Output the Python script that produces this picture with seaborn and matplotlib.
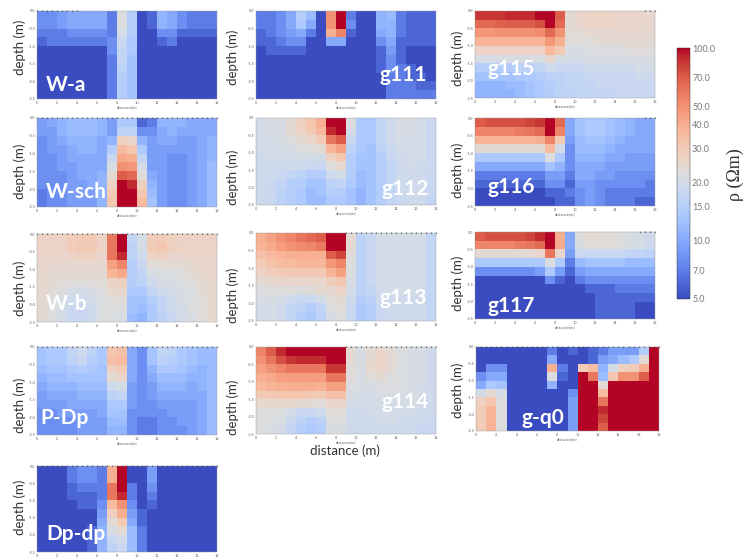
import numpy as np
import matplotlib
matplotlib.use("Agg")
import matplotlib.pyplot as plt
from matplotlib.colors import LogNorm
import seaborn as sns

sns.set_style("white")
plt.rcParams['font.family'] = ['Lato', 'DejaVu Sans']

W = 743
H = 557

W_a = [
 [8,8,9,10,10,10,10,7,22,15,5,6,11,10,8,7,7,7],
 [8,8,9,10,10,10,10,7,22,15,5,6,11,10,8,7,7,7],
 [7,7,7,8,8,8,8,7,20,15,5,5,8,8,6,6,6,6],
 [6,7,7,7,7,7,7,8,18,14,5,5,6,7,5,5,5,5],
 [5,5,5,5,5,5,5,8,17,14,5,5,5,5,5,5,5,5],
 [5,5,5,5,5,5,5,7,17,13,5,5,5,5,5,5,5,5],
 [5,5,5,5,5,5,5,7,16,13,5,5,5,5,5,5,5,5],
 [5,5,5,5,5,5,5,7,15,13,5,5,5,5,5,5,5,5],
 [5,5,5,5,5,5,5,7,15,13,5,5,5,5,5,5,5,5],
 [5,5,5,5,5,5,5,7,15,13,5,5,5,5,5,5,5,5],
]
W_sch = [
 [9,10,11,12,12,12,11,9,14,14,6,7,11,11,11,10,10,10],
 [9,9,11,12,12,12,11,9,16,16,8,8,10,11,10,10,10,10],
 [8,9,10,11,11,11,10,11,28,26,11,9,10,10,9,9,10,11],
 [8,9,9,10,11,11,10,15,36,32,14,9,9,9,9,9,10,11],
 [8,8,9,10,10,10,10,18,42,40,17,9,9,8,8,9,10,11],
 [8,8,9,9,10,10,10,21,50,48,20,9,9,8,8,9,10,12],
 [8,8,8,9,10,10,11,24,70,65,23,10,9,8,8,9,10,12],
 [8,8,8,9,9,10,11,27,100,90,28,11,9,8,8,9,10,12],
 [7,8,8,9,9,9,11,30,100,100,32,12,9,8,8,9,10,12],
 [7,8,8,9,9,9,11,32,100,100,36,13,9,8,8,9,10,12],
]
W_b = [
 [27,27,27,29,31,31,27,60,100,17,20,29,30,28,27,27,27,27],
 [27,27,27,29,31,31,27,60,100,16,20,30,32,28,27,27,27,27],
 [26,26,26,27,28,28,26,60,90,16,19,27,28,26,26,26,26,26],
 [26,25,25,25,25,25,25,45,55,15,18,23,24,24,24,25,26,26],
 [25,24,24,24,24,24,24,38,42,15,17,21,22,22,23,24,25,26],
 [25,24,23,23,23,23,23,27,28,15,16,19,21,21,22,23,24,25],
 [25,23,22,20,20,21,22,25,25,14,14,17,19,20,21,22,24,25],
 [24,23,21,19,19,20,22,23,23,13,13,15,17,19,21,22,23,25],
 [24,22,20,18,18,19,22,23,22,13,12,14,17,19,20,22,23,25],
 [24,22,20,18,18,19,22,22,21,12,11,14,16,18,20,21,23,25],
]
P_Dp = [
 [13,14,14,17,19,16,14,32,34,10,8,13,17,16,14,13,12,12],
 [13,14,14,16,18,15,14,34,36,10,8,13,16,15,14,13,12,12],
 [12,13,13,14,15,14,13,28,30,10,8,11,14,14,13,12,11,12],
 [11,12,12,13,13,13,13,24,26,10,8,10,12,12,12,11,11,12],
 [10,11,11,11,12,12,12,19,20,9,8,9,11,11,11,10,11,12],
 [9,10,10,10,11,11,11,16,17,9,8,9,10,10,10,10,10,12],
 [9,9,9,10,10,10,10,14,14,9,8,8,9,9,9,9,10,12],
 [8,8,9,9,9,9,10,13,13,8,8,8,8,9,9,9,10,12],
 [8,8,8,8,9,9,9,12,12,8,7,7,8,8,9,9,10,12],
 [8,8,8,8,9,9,9,11,11,8,7,7,8,8,8,9,10,12],
]
Dp_dp = [
 [5,5,5,7,8,8,7,40,100,5,5,9,5,5,5,5,5,5],
 [5,5,5,7,8,8,7,40,100,5,5,9,5,5,5,5,5,5],
 [5,5,5,6,7,7,7,60,100,7,5,8,5,5,5,5,5,5],
 [5,5,5,6,6,6,7,60,90,7,5,7,5,5,5,5,5,5],
 [5,5,5,5,6,6,8,36,50,8,5,6,5,5,5,5,5,5],
 [5,5,5,5,5,5,9,28,40,9,6,5,5,5,5,5,5,5],
 [5,5,5,5,5,5,10,24,30,10,6,5,5,5,5,5,5,5],
 [5,5,5,5,5,6,11,21,24,12,7,5,5,5,5,5,5,5],
 [5,5,5,5,5,6,11,18,20,12,7,5,5,5,5,5,5,5],
 [5,5,5,5,5,6,11,16,18,12,7,5,5,5,5,5,5,5],
]
g111 = [
 [7,7,8,10,15,12,5,50,100,7,5,5,11,12,7,6,6,6],
 [7,7,8,10,14,10,5,50,100,8,5,5,11,11,7,6,6,6],
 [6,7,8,9,10,7,5,40,55,6,5,5,10,11,7,6,6,6],
 [6,6,7,8,8,5,5,10,10,5,5,5,8,10,6,6,6,6],
 [5,6,6,6,6,5,5,5,5,5,5,5,6,9,6,5,5,5],
 [5,5,5,5,5,5,5,5,5,5,5,5,6,8,6,5,5,5],
 [5,5,5,5,5,5,5,5,5,5,5,5,6,8,7,6,5,5],
 [5,5,5,5,5,5,5,5,5,5,5,5,5,7,7,6,6,5],
 [5,5,5,5,5,5,5,5,5,5,5,5,5,7,7,7,6,6],
 [5,5,5,5,5,5,5,5,5,5,5,5,5,7,7,7,7,7],
]
g112 = [
 [20,21,21,24,28,32,40,100,100,22,14,14,17,19,21,21,20,18],
 [20,21,21,24,27,31,36,90,100,20,14,14,17,19,21,21,20,18],
 [20,20,21,22,24,26,30,60,70,18,14,14,17,19,20,20,20,18],
 [20,20,20,21,22,23,24,38,45,16,14,13,16,18,20,20,20,18],
 [19,20,20,20,20,20,20,28,32,15,13,13,15,18,19,20,20,18],
 [19,19,19,19,19,18,18,23,25,15,13,13,15,17,19,20,19,18],
 [19,19,18,17,16,15,15,19,20,15,12,13,15,17,19,19,19,18],
 [19,18,17,15,15,13,13,16,17,14,12,13,15,17,19,19,19,18],
 [19,18,16,15,14,12,13,15,15,13,11,13,15,17,19,19,19,18],
 [19,18,16,15,14,12,12,14,14,13,11,13,15,17,18,19,19,17],
]
g113 = [
 [40,45,50,55,60,65,70,100,100,24,16,18,20,20,20,20,20,17],
 [38,42,46,50,52,54,58,100,100,24,16,18,20,20,20,20,20,17],
 [34,36,38,40,40,40,40,70,80,23,16,18,20,20,20,20,20,17],
 [30,33,35,36,37,37,37,48,55,22,16,18,20,20,20,20,20,17],
 [27,29,30,31,31,31,31,38,45,22,16,18,20,20,20,20,20,17],
 [24,25,26,26,26,26,26,29,32,21,16,18,20,20,20,20,20,17],
 [22,23,23,23,22,23,24,25,27,20,16,17,19,20,20,20,19,17],
 [21,21,20,19,18,18,20,23,24,19,15,16,19,19,19,19,19,17],
 [20,20,19,17,16,15,17,22,23,18,14,15,18,19,19,19,19,17],
 [20,20,19,17,15,14,16,21,22,18,14,15,18,19,19,19,19,17],
]
g114 = [
 [55,70,90,100,100,100,100,100,100,24,21,24,26,24,22,21,21,19],
 [50,60,75,85,90,90,90,100,100,24,21,25,27,24,22,21,21,19],
 [45,50,55,60,60,60,60,85,85,23,21,25,26,24,22,21,21,19],
 [40,42,45,46,46,46,46,60,60,23,21,23,24,22,22,21,21,19],
 [36,38,39,40,40,40,39,45,45,22,21,21,22,22,22,21,20,19],
 [30,31,32,32,32,31,30,34,34,21,20,20,21,21,21,21,20,19],
 [25,25,25,25,24,24,23,26,26,20,20,20,20,20,20,20,20,19],
 [22,23,22,20,18,18,19,23,23,19,19,20,20,20,20,20,19,19],
 [22,22,21,18,16,15,16,22,22,19,19,19,20,20,19,19,19,18],
 [22,21,20,17,15,14,15,21,21,19,19,19,19,19,19,19,18,18],
]
g115 = [
 [85,85,85,90,90,90,100,100,70,24,26,27,27,27,26,26,26,25],
 [65,65,68,70,70,70,75,100,65,24,26,27,27,27,26,26,26,25],
 [48,48,50,50,50,50,52,65,50,24,24,25,25,25,25,25,25,25],
 [38,38,38,38,38,38,38,48,40,23,23,23,24,24,24,24,24,24],
 [27,27,27,27,27,27,27,36,30,21,21,22,22,22,22,23,23,23],
 [21,21,21,21,21,21,21,25,21,20,20,21,21,21,21,21,21,21],
 [15,15,15,15,16,16,17,19,18,18,18,19,19,19,19,19,20,20],
 [13,13,13,13,14,14,15,16,16,17,17,18,18,18,18,18,19,19],
 [11,11,11,12,12,13,14,15,16,17,17,17,18,18,18,18,18,18],
 [11,11,11,11,12,13,14,15,16,16,17,17,17,17,18,18,18,18],
]
g116 = [
 [70,75,75,75,75,80,85,100,65,10,13,14,14,13,12,11,10,10],
 [55,55,55,55,58,60,65,100,55,10,13,14,14,13,12,11,10,10],
 [38,38,38,38,38,38,40,55,30,9,12,13,13,12,11,10,10,10],
 [24,24,24,24,24,24,24,36,20,8,12,12,12,11,10,10,10,10],
 [14,14,14,14,14,14,14,22,14,8,11,11,11,10,10,9,9,9],
 [10,10,10,10,10,10,10,13,11,8,10,10,10,9,9,9,9,9],
 [7,7,7,7,7,7,7,9,9,7,10,10,9,9,8,8,8,8],
 [6,6,6,6,6,6,6,8,8,6,9,9,8,8,8,8,8,7],
 [5,5,5,5,5,5,5,6,6,7,8,9,8,7,7,7,7,7],
 [5,5,5,5,5,5,5,5,6,6,8,9,8,7,7,7,6,6],
]
g117 = [
 [70,75,75,75,75,80,90,100,40,10,22,24,24,23,22,21,20,19],
 [55,55,55,55,58,60,65,100,42,10,21,23,23,23,22,21,20,19],
 [24,24,24,24,24,24,26,60,26,9,18,18,18,18,18,17,17,16],
 [14,14,14,14,14,14,14,22,14,7,12,13,13,13,13,12,12,12],
 [8,8,8,8,8,8,9,14,9,6,9,10,10,10,10,10,10,10],
 [5,5,5,5,5,5,5,8,6,5,7,8,8,8,8,8,8,8],
 [5,5,5,5,5,5,5,5,5,5,5,6,6,6,7,7,7,7],
 [5,5,5,5,5,5,5,5,5,5,5,5,6,6,6,6,6,6],
 [5,5,5,5,5,5,5,5,5,5,5,5,6,6,6,6,5,5],
 [5,5,5,5,5,5,5,5,5,5,5,5,6,6,6,6,5,5],
]
g_q0 = [
 [5,5,5,5,5,5,5,7,5,6,5,6,7,9,9,9,15,100],
 [5,5,5,5,5,5,5,10,5,5,5,6,9,10,12,14,24,100],
 [5,8,8,5,5,5,5,40,7,5,30,35,11,20,28,30,40,100],
 [8,10,10,5,5,5,5,22,6,5,100,60,12,32,50,50,70,100],
 [10,14,13,5,5,5,5,11,5,5,100,100,24,100,100,100,100,100],
 [20,24,20,5,5,5,5,5,5,8,100,100,35,100,100,100,100,100],
 [28,32,22,5,5,5,5,5,5,9,100,100,60,100,100,100,100,100],
 [30,38,22,5,5,5,5,5,5,9,100,100,90,100,100,100,100,100],
 [30,38,22,5,5,5,5,5,5,9,100,100,80,100,100,100,100,100],
 [30,38,22,5,5,5,5,5,5,9,100,100,70,100,100,100,100,100],
]

panel_names = ["W-a", "W-sch", "W-b", "P-Dp", "Dp-dp", "g111", "g112", "g113",
               "g114", "g115", "g116", "g117", "g-q0"]
panel_values = [W_a, W_sch, W_b, P_Dp, Dp_dp, g111, g112, g113, g114, g115, g116, g117, g_q0]
# electrode extent along the surface (m) per panel
electrode_from = [0, 0, 0, 0, 0, None, None, 9, 9, 17, 17, 16.5, 0]
electrode_to = [4, 18, 18, 18, 18, None, None, 18, 18, 18, 18, 18, 18]
x_ticks = [0, 2, 4, 6, 8, 10, 12, 14, 16, 18]
y_ticks = [0.0, -0.5, -1.0, -1.5, -2.0, -2.5]
cbar_ticks = [5.0, 7.0, 10.0, 15.0, 20.0, 30.0, 40.0, 50.0, 70.0, 100.0]

# pixel boxes: left, top, right, bottom
boxes = [
 (37, 11, 217, 99), (37, 118, 217, 207), (37, 234, 217, 322), (37, 347, 217, 435),
 (37, 466, 217, 552),
 (256, 11, 436, 99), (256, 118, 436, 205), (256, 233, 436, 321), (256, 347, 436, 434),
 (475, 11, 655, 98), (475, 118, 655, 206), (475, 232, 655, 319), (476, 347, 659, 431),
]
# panel name anchor in pixels (left, vertical centre)
label_pos = [
 (46, 85), (46, 192), (46, 304), (40, 418), (46, 534),
 (380, 75), (381, 189), (380, 298), (381, 402),
 (488, 69), (488, 187), (488, 306), (521, 418),
]
# "depth (m)" centre in pixels
depth_pos = [
 (20, 47), (20, 171), (20, 288), (20, 405), (20, 507),
 (233, 57), (233, 177), (233, 295), (233, 407),
 (458, 58), (458, 170), (458, 283), (458, 390),
]

fig = plt.figure(figsize=(W / 100, H / 100), dpi=100, facecolor="white")
norm = LogNorm(vmin=5, vmax=100)
GREY = "#666666"

def to_fig(l, t, r, b):
    return [l / W, 1 - b / H, (r - l) / W, (b - t) / H]

for i, (name, vals) in enumerate(zip(panel_names, panel_values)):
    ax = fig.add_axes(to_fig(*boxes[i]))
    sns.heatmap(np.array(vals, dtype=float), ax=ax, cmap="coolwarm", norm=norm, cbar=False,
                xticklabels=False, yticklabels=False)
    ax.set_xticks(x_ticks)
    ax.set_xticklabels([str(v) for v in x_ticks], rotation=0)
    ax.set_yticks([-v * 4 for v in y_ticks])
    ax.set_yticklabels([f"{v:.1f}" for v in y_ticks], rotation=0)
    ax.tick_params(length=0.8, width=0.3, pad=0.4, labelsize=2.8, colors=GREY)
    ax.set_ylabel("")
    if name == "Dp-dp":
        ax.set_xlabel("")
    else:
        ax.set_xlabel("distance(m)", fontsize=3, color=GREY, labelpad=0.3)
    for s in ax.spines.values():
        s.set_visible(True)
        s.set_linewidth(0.3)
        s.set_color("#999999")
    if electrode_from[i] is not None:
        ex = [x for x in np.arange(0, 18.5, 0.5) if electrode_from[i] <= x <= electrode_to[i]]
        ax.plot(ex, [0.03] * len(ex), ls="none", marker="v", ms=1.1, mfc="#222222", mec="none",
                clip_on=False)
    dx, dy = depth_pos[i]
    fig.text(dx / W, 1 - dy / H, "depth (m)", rotation=90, ha="center", va="center",
             fontsize=9.5, color="#333333")
    lx, ly = label_pos[i]
    fig.text(lx / W, 1 - ly / H, name, color="white", fontsize=15, fontweight="bold",
             ha="left", va="center")

fig.text(345 / W, 1 - 451 / H, "distance (m)", fontsize=9.5, color="#333333", ha="center", va="center")

# colour bar
cax = fig.add_axes(to_fig(677, 48, 690, 299))
cb = fig.colorbar(plt.cm.ScalarMappable(norm=norm, cmap="coolwarm"), cax=cax)
cb.set_ticks(cbar_ticks)
cb.set_ticklabels([f"{v:.1f}" for v in cbar_ticks])
cb.minorticks_off()
cb.ax.tick_params(length=0, pad=1.5, labelsize=6.5, labelcolor="#777777")
cb.outline.set_linewidth(0.3)
cb.ax.text(735 / W, 1 - 175 / H, "ρ (Ωm)", transform=fig.transFigure, rotation=90,
           family="Liberation Serif", fontsize=13, color="#333333", ha="center", va="center")

fig.savefig("out.png", dpi=100)
